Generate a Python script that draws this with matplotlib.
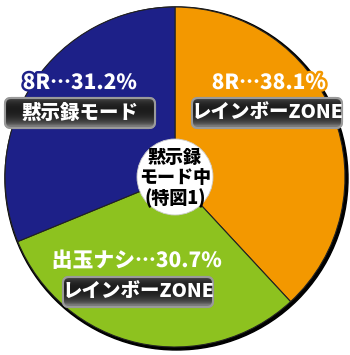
import numpy as np
import matplotlib.pyplot as plt
import matplotlib.patheffects as pe
from matplotlib.patches import FancyBboxPatch, Circle

plt.rcParams['font.family'] = ['Noto Sans CJK JP', 'DejaVu Sans']

# data
values = [38.1, 30.7, 31.2]
colors = ['#F39800', '#8DC21F', '#1D2088']
pct_labels = ['8R…38.1%', '出玉ナシ…30.7%', '8R…31.2%']
box_labels = ['レインボーZONE', 'レインボーZONE', '黙示録モード']
center_text = '黙示録\nモード中\n(特図1)'

W, H = 350, 355
fig = plt.figure(figsize=(W / 100, H / 100), dpi=100)
ax = fig.add_axes([0, 0, 1, 1])

cx, cy, r = 175, H - 177, 170

# shadow / outline ring
ax.add_patch(Circle((cx + 1.5, cy - 1.5), r + 1.5, color='black', zorder=0))
ax.pie(values, colors=colors, startangle=90, counterclock=False,
       center=(cx, cy), radius=r, frame=True,
       wedgeprops=dict(edgecolor='#222222', linewidth=0.8))
ax.set_aspect('equal')
ax.axis('off')

# centre disc
ax.add_patch(Circle((cx, cy), 38, facecolor='white', edgecolor='#cccccc',
                    linewidth=0.6, zorder=5))
ax.text(cx, cy - 1, center_text, ha='center', va='center', fontsize=13,
        fontweight='heavy', color='black', linespacing=1.05, zorder=6)

# label positions (pixel centres: text, box)
txt_pos = [(269, H - 83), (137, H - 261), (80, H - 83)]
box_pos = [(267, H - 113), (138, H - 292), (80, H - 113)]
box_w, box_h = 150, 30

grad = np.linspace(0, 1, 64)
shade = 0.36 - 0.30 * np.sin(np.pi * np.clip(grad * 1.1, 0, 1)) ** 0.5
shade = np.clip(shade + 0.12 * grad, 0, 1)
gimg = np.dstack([shade, shade, shade]).reshape(64, 1, 3)

for i in range(3):
    tx, ty = txt_pos[i]
    ax.text(tx, ty, pct_labels[i], ha='center', va='center', fontsize=15,
            fontweight='heavy', color='white', zorder=7,
            path_effects=[pe.withStroke(linewidth=3.5, foreground=colors[i])])
    bx, by = box_pos[i]
    box = FancyBboxPatch((bx - box_w / 2, by - box_h / 2), box_w, box_h,
                         boxstyle='round,pad=0,rounding_size=6',
                         facecolor='#2a2a2a', edgecolor='#9a9a9a',
                         linewidth=1.5, zorder=7)
    ax.add_patch(box)
    im = ax.imshow(gimg, extent=(bx - box_w / 2, bx + box_w / 2,
                                 by - box_h / 2, by + box_h / 2),
                   aspect='auto', zorder=7.5)
    im.set_clip_path(box)
    ax.add_patch(FancyBboxPatch((bx - box_w / 2, by - box_h / 2), box_w, box_h,
                                boxstyle='round,pad=0,rounding_size=6',
                                facecolor='none', edgecolor='#9a9a9a',
                                linewidth=1.5, zorder=7.6))
    ax.text(bx, by, box_labels[i], ha='center', va='center', fontsize=14,
            fontweight='heavy', color='white', zorder=8)

ax.set_xlim(0, W)
ax.set_ylim(0, H)
ax.set_aspect('equal')
fig.savefig('out.png', dpi=100)
